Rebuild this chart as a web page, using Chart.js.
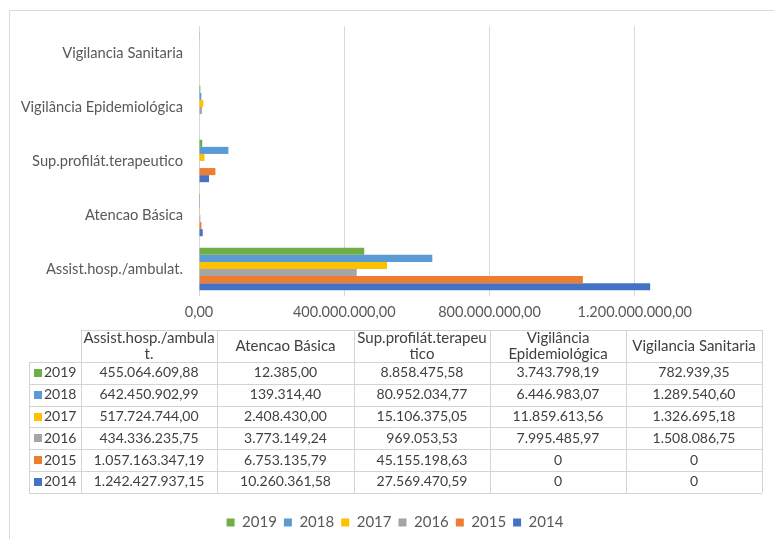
<!DOCTYPE html>
<html>
<head>
<meta charset="utf-8">
<script src="https://cdn.jsdelivr.net/npm/chart.js@4.4.0/dist/chart.umd.min.js"></script>
<style>
  html, body { margin: 0; padding: 0; background: #fff; overflow: hidden; width: 774px; height: 539px; }
  #frame { position: absolute; left: 9px; top: 10px; width: 800px; height: 545px; border: 1px solid #d9d9d9; }
  #wrap { position: absolute; left: 0; top: 0; width: 790px; height: 529px; }
</style>
</head>
<body>
<div id="frame"><div id="wrap"><canvas id="c"></canvas></div></div>
<script>
// categories in table order (the chart shows them bottom -> top)
const categories = ["Assist.hosp./ambulat.", "Atencao Básica", "Sup.profilát.terapeutico", "Vigilância Epidemiológica", "Vigilancia Sanitaria"];
const years = ["2019", "2018", "2017", "2016", "2015", "2014"];

const v2019 = [455064609.88, 12385.00, 8858475.58, 3743798.19, 782939.35];
const v2018 = [642450902.99, 139314.40, 80952034.77, 6446983.07, 1289540.60];
const v2017 = [517724744.00, 2408430.00, 15106375.05, 11859613.56, 1326695.18];
const v2016 = [434336235.75, 3773149.24, 969053.53, 7995485.97, 1508086.75];
const v2015 = [1057163347.19, 6753135.79, 45155198.63, 0, 0];
const v2014 = [1242427937.15, 10260361.58, 27569470.59, 0, 0];

const xMax = 1600000000;
const xStep = 400000000;
const lastTickShown = 1200000000;

const series = [v2019, v2018, v2017, v2016, v2015, v2014];
const colors = ["#70AD47", "#5B9BD5", "#FFC000", "#A5A5A5", "#ED7D31", "#4472C4"];
const FONT = "Lato, 'Liberation Sans', sans-serif";

// formato brasileiro: 1.234.567,89
function fmt(v, dec) {
    const parts = v.toFixed(dec).split(".");
    const ent = parts[0].replace(/\B(?=(\d{3})+(?!\d))/g, ".");
    return parts[1] ? ent + "," + parts[1] : ent;
}
// la table affiche "0" pour les zéros
function fmtCell(v) {
    return v === 0 ? "0" : fmt(v, 2);
}

// coupe le texte comme Excel: par mots, sinon par caractères
function wrapText(ctx, text, maxW) {
    const words = text.split(" ");
    const lines = [];
    let cur = "";
    words.forEach(w => {
        const test = cur ? cur + " " + w : w;
        if (ctx.measureText(test).width <= maxW) { cur = test; return; }
        if (cur) { lines.push(cur); cur = ""; }
        if (ctx.measureText(w).width <= maxW) { cur = w; return; }
        let piece = "";
        for (const ch of w) {
            if (ctx.measureText(piece + ch).width > maxW && piece) { lines.push(piece); piece = ch; }
            else piece += ch;
        }
        cur = piece;
    });
    if (cur) lines.push(cur);
    return lines;
}

const dataTable = {
    id: "dataTable",
    afterDraw(chart) {
        const ctx = chart.ctx;
        const top = 319;
        const colX = [19, 71, 207, 344, 480, 616, 752];
        const headH = 32, rowH = 21.8;
        const bottom = top + headH + rowH * years.length;
        ctx.save();
        ctx.strokeStyle = "#d4d4d4";
        ctx.lineWidth = 1;
        ctx.beginPath();
        // lignes horizontales
        ctx.moveTo(colX[1], top + 0.5); ctx.lineTo(colX[6], top + 0.5);
        for (let r = 0; r <= years.length; r++) {
            const y = Math.round(top + headH + r * rowH) + 0.5;
            ctx.moveTo(colX[0], y); ctx.lineTo(colX[6], y);
        }
        // lignes verticales
        ctx.moveTo(colX[0] + 0.5, top + headH); ctx.lineTo(colX[0] + 0.5, bottom);
        for (let c = 1; c < colX.length; c++) {
            ctx.moveTo(colX[c] + 0.5, top); ctx.lineTo(colX[c] + 0.5, bottom);
        }
        ctx.stroke();

        ctx.fillStyle = "#404040";
        ctx.font = "15px " + FONT;
        ctx.textAlign = "center";
        ctx.textBaseline = "middle";
        // en-tête
        categories.forEach((cat, i) => {
            const cx = (colX[i + 1] + colX[i + 2]) / 2;
            const lines = wrapText(ctx, cat, colX[i + 2] - colX[i + 1] - 4);
            const lh = 16;
            const y0 = top + headH / 2 - (lines.length - 1) * lh / 2;
            lines.forEach((ln, k) => ctx.fillText(ln, cx, y0 + k * lh));
        });
        // lignes de données
        ctx.font = "14px " + FONT;
        years.forEach((yr, r) => {
            const cy = top + headH + r * rowH + rowH / 2;
            ctx.fillStyle = colors[r];
            ctx.fillRect(colX[0] + 5, Math.round(cy) - 4, 8, 8);
            ctx.fillStyle = "#404040";
            ctx.textAlign = "left";
            ctx.fillText(yr, colX[0] + 15, cy);
            ctx.textAlign = "center";
            series[r].forEach((v, i) => {
                const cx = (colX[i + 1] + colX[i + 2]) / 2;
                ctx.fillText(fmtCell(v), cx, cy);
            });
        });
        ctx.restore();
    }
};

const chartLabels = categories.slice().reverse();

new Chart(document.getElementById("c"), {
    type: "bar",
    data: {
        labels: chartLabels,
        datasets: years.map((yr, i) => ({
            label: yr,
            data: series[i].slice().reverse(),
            backgroundColor: colors[i],
            borderWidth: 0,
            categoryPercentage: 0.785,
            barPercentage: 1.0
        }))
    },
    options: {
        indexAxis: "y",
        responsive: true,
        maintainAspectRatio: false,
        animation: false,
        layout: { padding: { top: 15, left: 0, right: 20, bottom: 0 } },
        plugins: {
            legend: {
                position: "bottom",
                labels: {
                    boxWidth: 8,
                    boxHeight: 8,
                    padding: 7,
                    color: "#595959",
                    font: { family: FONT, size: 15 }
                }
            },
            tooltip: { enabled: false }
        },
        scales: {
            x: {
                min: 0,
                max: xMax,
                ticks: {
                    stepSize: xStep,
                    padding: 8,
                    color: "#595959",
                    font: { family: FONT, size: 14.5 },
                    callback: v => (v > lastTickShown ? "" : fmt(v, 2))
                },
                grid: { color: "#d9d9d9", drawTicks: false },
                border: { display: false },
                afterFit: s => { s.height = 212; }
            },
            y: {
                grid: { display: false, drawTicks: false },
                border: { display: false },
                ticks: {
                    padding: 16,
                    color: "#595959",
                    font: { family: FONT, size: 14.7 }
                },
                afterFit: s => { s.width = 189; s.paddingTop = 0; s.paddingBottom = 0; }
            }
        }
    },
    plugins: [dataTable]
});
</script>
</body>
</html>
